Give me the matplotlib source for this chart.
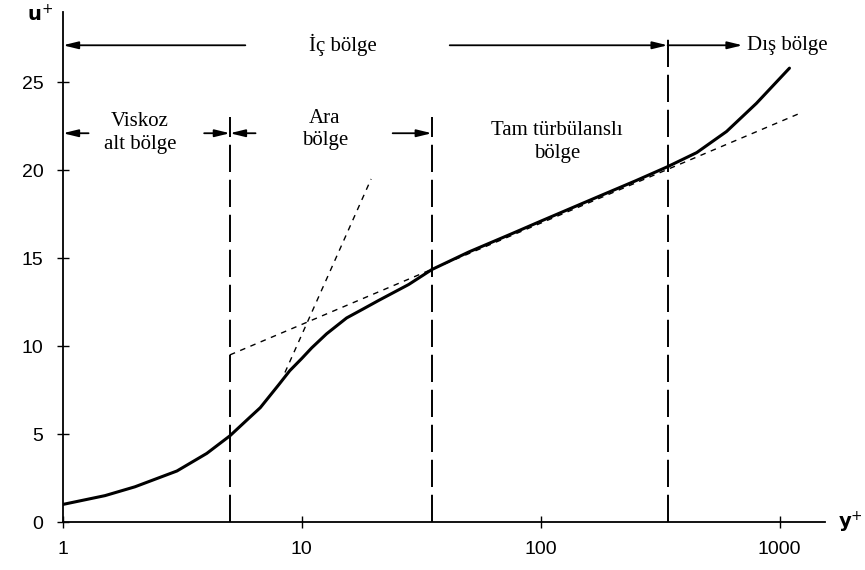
import matplotlib.pyplot as plt

# velocity profile u+ vs y+
y_plus = [1, 1.5, 2, 3, 4, 5, 6, 6.7, 8, 8.9, 10, 11, 12.7, 15.4, 18, 21, 28, 35,
          50, 76, 100, 171, 250, 340, 450, 600, 800, 1100]
u_plus = [1.0, 1.5, 2.0, 2.9, 3.9, 4.9, 5.9, 6.5, 7.8, 8.6, 9.3, 9.9, 10.7, 11.6, 12.1, 12.6, 13.5, 14.35,
          15.35, 16.4, 17.1, 18.45, 19.4, 20.2, 21.0, 22.2, 23.8, 25.8]

# reference lines
visc_x = [8.5, 19.5]
visc_u = [8.5, 19.5]
log_x = [5, 1200]
log_u = [9.5, 23.2]

# region boundaries
bounds = [5, 35, 340]
bound_tops = [23.0, 23.0, 27.8]

xticks = [1, 10, 100, 1000]
xticklabels = ['1', '10', '100', '1000']
yticks = [0, 5, 10, 15, 20, 25]

fig = plt.figure(figsize=(8.65, 5.70), dpi=100)
ax = fig.add_axes([0.0728, 0.0842, 0.881, 0.895])

ax.plot(y_plus, u_plus, color='black', lw=2.2, solid_capstyle='round', solid_joinstyle='round')
ax.plot(visc_x, visc_u, color='black', lw=1.0, dashes=(4, 4))
ax.plot(log_x, log_u, color='black', lw=1.0, dashes=(4, 4))

for xb, top in zip(bounds, bound_tops):
    ax.plot([xb, xb], [0, top], color='black', lw=1.4, dashes=(14, 4))

ax.set_xscale('log')
ax.set_xlim(1, 1550)
ax.set_ylim(0, 29)
ax.set_xticks(xticks)
ax.set_xticklabels(xticklabels)
ax.set_yticks(yticks)
ax.minorticks_off()
ax.tick_params(direction='inout', length=8, width=1, labelsize=14, pad=10)
for lab in ax.get_xticklabels() + ax.get_yticklabels():
    lab.set_family('Liberation Sans')
for s in ['top', 'right']:
    ax.spines[s].set_visible(False)
for s in ['left', 'bottom']:
    ax.spines[s].set_linewidth(1.3)

ax.text(-0.03, 0.995, 'u$^{+}$', transform=ax.transAxes, fontsize=14,
        ha='center', va='center', fontweight='bold')
ax.text(1.017, 0.0, 'y$^{+}$', transform=ax.transAxes, fontsize=14,
        ha='left', va='center', fontweight='bold')

def arrow(x0, x1, y):
    ax.annotate('', xy=(x1, y), xytext=(x0, y),
                arrowprops=dict(arrowstyle='-|>,head_length=0.9,head_width=0.22',
                                color='black', lw=1.3, shrinkA=0, shrinkB=0))

# top row
arrow(5.8, 1, 27.1)
arrow(41.6, 340, 27.1)
arrow(340, 700, 27.1)
ax.text(14.8, 27.1, 'İç bölge', fontsize=15, ha='center', va='center',
        family='Liberation Serif')
ax.text(730, 27.1, 'Dış bölge', fontsize=15, ha='left', va='center',
        family='Liberation Serif')

# second row
arrow(1.28, 1, 22.1)
arrow(3.9, 5, 22.1)
arrow(6.4, 5, 22.1)
arrow(24, 35, 22.1)
ax.text(2.1, 22.1, 'Viskoz\nalt bölge', fontsize=15, ha='center', va='center',
        family='Liberation Serif', linespacing=1.25)
ax.text(12.5, 22.3, 'Ara\nbölge', fontsize=15, ha='center', va='center',
        family='Liberation Serif', linespacing=1.25)
ax.text(117, 21.6, 'Tam türbülanslı\nbölge', fontsize=15, ha='center', va='center',
        family='Liberation Serif', linespacing=1.25)

fig.savefig('out.png', dpi=100)
